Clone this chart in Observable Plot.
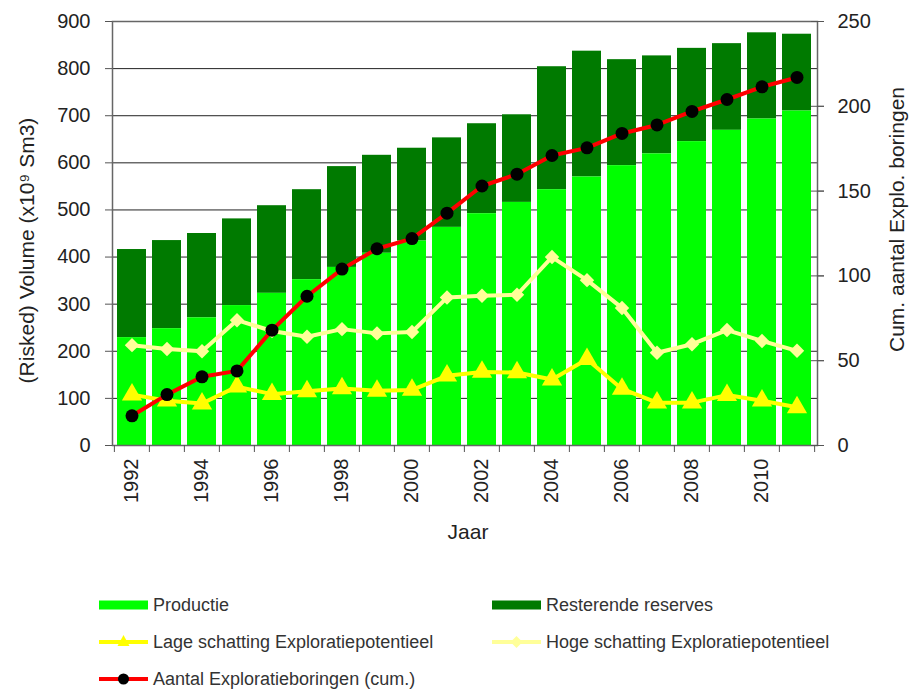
<!DOCTYPE html>
<html>
<head>
<meta charset="utf-8">
<script src="https://cdn.jsdelivr.net/npm/d3@7"></script>
<script src="https://cdn.jsdelivr.net/npm/@observablehq/plot@0.6"></script>
<style>
  body { margin: 0; background: #fff; font-family: "Liberation Sans", Arial, sans-serif; }
  #wrap { position: relative; width: 910px; height: 691px; }
  #legend { position: relative; width: 910px; height: 116px; }
  .item { position: absolute; display: flex; align-items: center; font-size: 18px; color: #333; height: 20px; }
  .item svg { margin-right: 5px; }
</style>
</head>
<body>
<div id="wrap">
  <div id="chart"></div>
  <div id="legend"></div>
</div>
<script>
const years = [1992,1993,1994,1995,1996,1997,1998,1999,2000,2001,2002,2003,2004,2005,2006,2007,2008,2009,2010,2011];
const productie = [229,248,271,297,323,352,378,408,434,463,492,516,543,570,594,619,645,669,693,710];
const resterende = [187,187,179,184,186,191,214,208,197,190,191,186,261,267,225,208,198,184,183,163];
const lage = [108,95,89,125,109,115,121,116,118,148,156,155,140,183,120,91,91,107,95,81];
const hoge = [213,205,200,266,243,231,247,238,241,314,318,320,400,351,292,197,215,245,222,201];
const boringen = [17.5,30,40.5,44,68,88,104,116,122,137,153,160,171,175.5,184,189,197,204,211.5,217];

const leftTicks = [0,100,200,300,400,500,600,700,800,900];
const rightTicks = [0,50,100,150,200,250];
const yearLabels = years.filter((d, i) => i % 2 === 0);

const leftMax = 900, rightMax = 250;
const k = leftMax / rightMax;

const table = years.map((year, i) => ({
  year, prod: productie[i], res: resterende[i], lage: lage[i], hoge: hoge[i], bor: boringen[i]
}));

const W = 910, H = 575, mL = 112, mR = 93;
const step = (W - mL - mR) / years.length;

const chart = Plot.plot({
  width: W,
  height: H,
  marginLeft: mL,
  marginRight: mR,
  marginTop: 21,
  marginBottom: 130,
  style: { fontFamily: '"Liberation Sans", Arial, sans-serif', fontSize: "20px", color: "#222", background: "#fff" },
  x: { type: "band", domain: years, paddingInner: 0.17, paddingOuter: 0.085, axis: null },
  y: { domain: [0, leftMax], axis: null },
  marks: [
    Plot.gridY(leftTicks.slice(1), { stroke: "#222", strokeOpacity: 1, strokeWidth: 1 }),
    Plot.barY(table, { x: "year", y1: "prod", y2: d => d.prod + d.res, fill: "#007A00" }),
    Plot.barY(table, { x: "year", y: "prod", fill: "#00FF00" }),
    Plot.frame({ stroke: "#666", strokeWidth: 1.5 }),
    // left axis
    Plot.axisY({ anchor: "left", ticks: leftTicks, tickSize: 7, tickPadding: 15, stroke: "#555", label: null, tickFormat: d => d }),
    // right axis (secondary scale)
    Plot.axisY({ anchor: "right", ticks: rightTicks.map(v => v * k), tickSize: 13, dx: -7, text: null, stroke: "#555", label: null }),
    Plot.axisY({ anchor: "right", ticks: rightTicks.map(v => v * k), tickSize: 6, tickPadding: 14, stroke: "#555", label: null, tickFormat: d => Math.round(d / k) }),
    // x axis: tick marks between categories
    Plot.axisX({ ticks: years, tickSize: 7, text: null, dx: -step / 2, stroke: "#555", label: null }),
    Plot.axisX({ ticks: [years[years.length - 1]], tickSize: 7, text: null, dx: step / 2, stroke: "#555", label: null }),
    Plot.axisX({ ticks: yearLabels, tickSize: 0, tickPadding: 13, tickRotate: -90, label: null, tickFormat: d => String(d) }),
    // lines
    Plot.line(table, { x: "year", y: "hoge", stroke: "#FFFF99", strokeWidth: 4 }),
    Plot.dot(table, { x: "year", y: "hoge", symbol: "diamond2", r: 6.5, fill: "#FFFF99" }),
    Plot.line(table, { x: "year", y: "lage", stroke: "#FFFF00", strokeWidth: 4 }),
    Plot.dot(table, { x: "year", y: "lage", symbol: "triangle", r: 7.5, fill: "#FFFF00" }),
    Plot.line(table, { x: "year", y: d => d.bor * k, stroke: "#FF0000", strokeWidth: 4 }),
    Plot.dot(table, { x: "year", y: d => d.bor * k, r: 6.5, fill: "#000" }),
    // titles
    Plot.text(["(Risked) Volume (x10⁹ Sm3)"], { frameAnchor: "left", textAnchor: "middle", dx: -85, dy: 17, rotate: -90, fontSize: 21, fill: "#222" }),
    Plot.text(["Cum. aantal Explo. boringen"], { frameAnchor: "right", textAnchor: "middle", dx: 80, dy: -14, rotate: -90, fontSize: 21, fill: "#222" }),
    Plot.text(["Jaar"], { frameAnchor: "bottom", textAnchor: "middle", dx: 3, dy: 93, fontSize: 21, fill: "#222" })
  ]
});
document.getElementById("chart").appendChild(chart);

// legend
const legendItems = [
  { label: "Productie", kind: "bar", color: "#00FF00", left: 99, top: 30 },
  { label: "Resterende reserves", kind: "bar", color: "#007A00", left: 492, top: 30 },
  { label: "Lage schatting Exploratiepotentieel", kind: "tri", color: "#FFFF00", left: 99, top: 67 },
  { label: "Hoge schatting Exploratiepotentieel", kind: "dia", color: "#FFFF99", left: 492, top: 67 },
  { label: "Aantal Exploratieboringen (cum.)", kind: "dot", color: "#FF0000", left: 99, top: 104 }
];
const legend = document.getElementById("legend");
for (const it of legendItems) {
  const div = document.createElement("div");
  div.className = "item";
  div.style.left = it.left + "px";
  div.style.top = (it.top - 10) + "px";
  let sw = "";
  if (it.kind === "bar") {
    sw = `<rect x="0" y="5.5" width="49" height="9" fill="${it.color}"/>`;
  } else {
    sw = `<line x1="0" x2="49" y1="10" y2="10" stroke="${it.color}" stroke-width="4"/>`;
    if (it.kind === "tri") sw += `<path d="M24.5,3 L30.5,14 L18.5,14 Z" fill="${it.color}"/>`;
    if (it.kind === "dia") sw += `<path d="M24.5,4 L30.5,10 L24.5,16 L18.5,10 Z" fill="${it.color}"/>`;
    if (it.kind === "dot") sw += `<circle cx="24.5" cy="10" r="5.5" fill="#000"/>`;
  }
  div.innerHTML = `<svg width="49" height="20">${sw}</svg><span>${it.label}</span>`;
  legend.appendChild(div);
}
</script>
</body>
</html>
